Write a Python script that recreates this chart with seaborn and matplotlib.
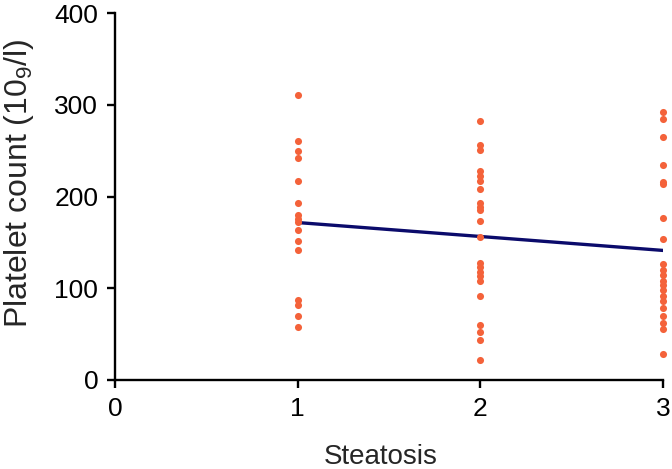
import numpy as np
import pandas as pd
import matplotlib
matplotlib.use("Agg")
import matplotlib.pyplot as plt
import seaborn as sns

grade1 = [311, 261, 250, 242, 217, 193, 180, 176, 172, 164, 152, 142, 87, 82, 70, 58]
grade2 = [282, 256, 251, 228, 222, 217, 208, 193, 189, 185, 173, 156, 128, 123, 118,
          113, 108, 91, 60, 52, 43, 22]
grade3 = [292, 284, 265, 234, 216, 214, 177, 154, 126, 120, 114, 108, 103, 98, 92, 86,
          78, 70, 62, 55, 28]
x_ticks = [0, 1, 2, 3]
y_ticks = [0, 100, 200, 300, 400]

df = pd.DataFrame({
    "Steatosis": [1] * len(grade1) + [2] * len(grade2) + [3] * len(grade3),
    "Platelets": grade1 + grade2 + grade3,
})

sns.set_style("white")
plt.rcParams["font.family"] = ["Liberation Sans", "DejaVu Sans"]
plt.rcParams["mathtext.fontset"] = "custom"
plt.rcParams["mathtext.rm"] = "Liberation Sans"

fig = plt.figure(figsize=(6.72, 4.69), dpi=100)
ax = fig.add_axes([0.171, 0.19, 0.816, 0.782])

sns.regplot(data=df, x="Steatosis", y="Platelets", ax=ax, ci=None, truncate=True,
            scatter_kws=dict(s=26, color="#f4623a", linewidths=0, clip_on=False, zorder=3, alpha=1),
            line_kws=dict(color="#0b0b6b", lw=2.4, zorder=2))

ax.set_xlim(0, 3)
ax.set_ylim(0, 400)
ax.set_xticks(x_ticks)
ax.set_yticks(y_ticks)
ax.tick_params(axis="both", direction="out", length=6, width=1.7, labelsize=19,
               color="black", labelcolor="black", pad=6, bottom=True, left=True)
for side in ["top", "right"]:
    ax.spines[side].set_visible(False)
for side in ["left", "bottom"]:
    ax.spines[side].set_linewidth(1.7)
    ax.spines[side].set_color("black")

ax.set_xlabel("Steatosis", fontsize=20)
ax.set_ylabel("Platelet count (10$_\\mathregular{9}$/l)", fontsize=23)
ax.xaxis.set_label_coords(0.484, -0.175)
ax.yaxis.set_label_coords(-0.143, 0.535)

fig.savefig("out.png", dpi=100)
